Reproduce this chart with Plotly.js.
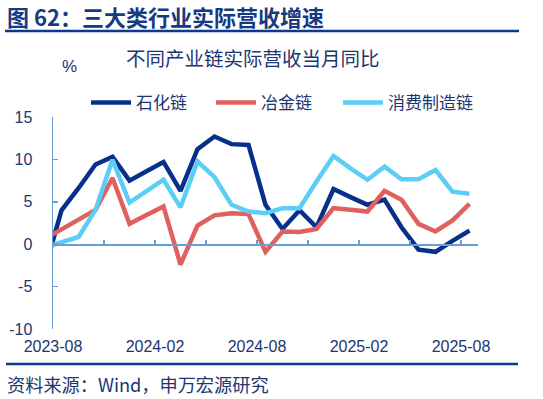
<!DOCTYPE html>
<html>
<head>
<meta charset="utf-8">
<script src="https://cdn.plot.ly/plotly-3.0.1.min.js"></script>
<style>
html,body{margin:0;padding:0;background:#fff;}
#chart{width:543px;height:399px;}
</style>
</head>
<body>
<div id="chart"></div>
<script>
// Months (2023-07 lies just left of the visible axis start; the line enters from the edge)
const months = ['2023-07','2023-08','2023-09','2023-10','2023-11','2023-12',
  '2024-01','2024-02','2024-03','2024-04','2024-05','2024-06','2024-07','2024-08',
  '2024-09','2024-10','2024-11','2024-12','2025-01','2025-02','2025-03','2025-04',
  '2025-05','2025-06','2025-07','2025-08'];
const petrochem = [-3.1, 4.0, 6.6, 9.4, 10.3, 7.5, 8.6, 9.7, 6.3, 11.2, 12.7, 11.8, 11.7, 4.65,
  1.8, 4.0, 2.0, 6.5, 5.55, 4.65, 5.25, 2.0, -0.65, -0.9, 0.4, 1.6];
const metallurgy = [0.6, 1.75, 2.9, 4.05, 7.8, 2.4, 3.45, 4.45, -2.4, 2.2, 3.4, 3.65, 3.55, -0.9,
  1.5, 1.45, 1.8, 4.25, 4.05, 3.85, 6.3, 5.25, 2.4, 1.5, 2.8, 4.75];
const consumer = [-0.4, 0.2, 0.85, 4.05, 9.95, 4.9, 6.25, 7.6, 4.35, 9.75, 7.9, 4.65, 3.85, 3.65,
  4.25, 4.25, 7.4, 10.4, 8.95, 7.6, 9.15, 7.65, 7.65, 8.75, 6.2, 5.95];
const seriesNames = ['石化链', '冶金链', '消费制造链'];
const labelMonths = ['2023-08', '2024-02', '2024-08', '2025-02', '2025-08'];
const yTicks = [-10, -5, 0, 5, 10, 15];

const idx = months.map((m, i) => i);
const W = 543, H = 399, L = 53, R = 65, T = 117, B = 70;
const pw = W - L - R, ph = H - T - B;
const px = x => (x - L) / pw;
const py = y => (H - B - y) / ph;

const navy = '#1b3670';
const axisBlue = '#6a9fd3';
const fam = 'Liberation Sans, Arial, Noto Sans CJK SC, sans-serif';
const cjk = 'Noto Sans CJK SC, Liberation Sans, sans-serif';
const colors = ['#07308c', '#e05f5f', '#5ccdf6'];
const legendIds = ['legend', 'legend2', 'legend3'];
const legendX = [86, 211, 338];
const data = [petrochem, metallurgy, consumer].map((vals, k) => ({
  x: idx, y: vals, type: 'scatter', mode: 'lines', name: seriesNames[k],
  line: {color: colors[k], width: 4.5}, cliponaxis: true, legend: legendIds[k]
}));
data.push({x: [], y: [], xaxis: 'x2', showlegend: false, hoverinfo: 'skip'});

const layout = {
  width: W, height: H,
  margin: {l: L, r: R, t: T, b: B},
  paper_bgcolor: '#fff', plot_bgcolor: '#fff',
  showlegend: true,
  xaxis: {type: 'linear', range: [0.5, 25.5], anchor: 'free', position: 0.4,
    showline: true, linecolor: axisBlue, linewidth: 1.5,
    tickmode: 'linear', tick0: 0.5, dtick: 3, ticks: 'inside', ticklen: 4,
    tickcolor: axisBlue, tickwidth: 1.5, showticklabels: false, showgrid: false, zeroline: false},
  xaxis2: {type: 'linear', range: [0.5, 25.5], overlaying: 'x', anchor: 'y', side: 'bottom',
    showline: false, ticks: '', showgrid: false, zeroline: false,
    tickmode: 'array', tickvals: labelMonths.map(m => months.indexOf(m) - 0.5), ticktext: labelMonths,
    tickfont: {family: fam, size: 16, color: navy}, ticklabelstandoff: 6},
  yaxis: {range: [-10, 15], tickmode: 'array', tickvals: yTicks, ticktext: yTicks.map(String),
    showline: true, linecolor: axisBlue, linewidth: 1.5, ticks: 'inside', ticklen: 5,
    tickcolor: axisBlue, tickwidth: 1.5, showgrid: false, zeroline: false,
    tickfont: {family: fam, size: 16, color: navy}, ticklabelstandoff: 16},
  shapes: [
    {type: 'line', xref: 'paper', yref: 'paper', x0: px(5), x1: px(519), y0: py(31), y1: py(31),
      line: {color: '#0b3a8c', width: 2.5}},
    {type: 'line', xref: 'paper', yref: 'paper', x0: px(6), x1: px(518), y0: py(364), y1: py(364),
      line: {color: '#0b3a8c', width: 2.5}}
  ],
  annotations: [
    {text: '<b>图 62：三大类行业实际营收增速</b>', xref: 'paper', yref: 'paper', x: px(5), y: py(16),
      xanchor: 'left', yanchor: 'middle', showarrow: false,
      font: {family: cjk, size: 22, color: '#17397f'}},
    {text: '不同产业链实际营收当月同比', xref: 'paper', yref: 'paper', x: px(124), y: py(57),
      xanchor: 'left', yanchor: 'middle', showarrow: false,
      font: {family: cjk, size: 19.5, color: navy}},
    {text: '%', xref: 'paper', yref: 'paper', x: px(60), y: py(67),
      xanchor: 'left', yanchor: 'middle', showarrow: false,
      font: {family: fam, size: 17, color: navy}},
    {text: '资料来源：Wind，申万宏源研究', xref: 'paper', yref: 'paper', x: px(5), y: py(384),
      xanchor: 'left', yanchor: 'middle', showarrow: false,
      font: {family: cjk, size: 18.2, color: navy}}
  ]
};
legendIds.forEach((id, k) => {
  layout[id] = {orientation: 'h', x: px(legendX[k]), xanchor: 'left', y: py(103), yanchor: 'middle',
    font: {family: cjk, size: 17, color: navy}, bgcolor: 'rgba(0,0,0,0)', itemwidth: 40};
});

Plotly.newPlot('chart', data, layout, {displayModeBar: false, staticPlot: true});
</script>
</body>
</html>
